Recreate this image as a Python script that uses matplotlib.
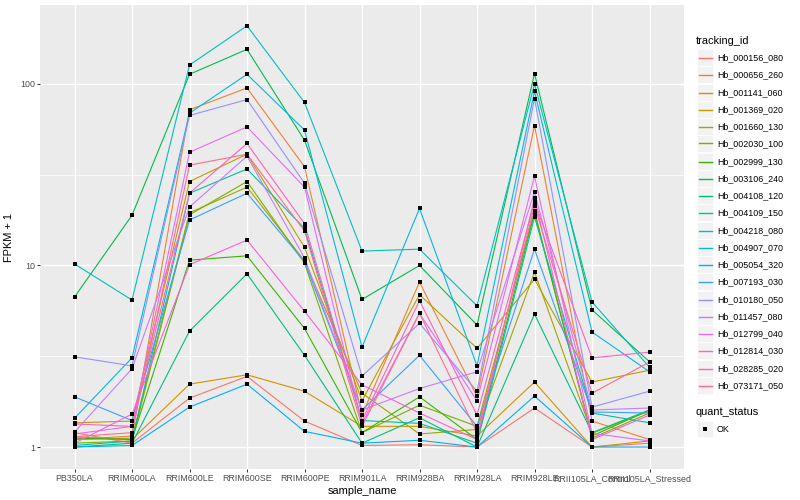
import matplotlib
matplotlib.use('Agg')
import matplotlib.pyplot as plt
from matplotlib.lines import Line2D
from matplotlib.patches import Rectangle
from matplotlib.ticker import FixedLocator, NullFormatter

plt.rcParams['font.family'] = ['Liberation Sans', 'DejaVu Sans']

# sample order on the x axis
samples = ['PB350LA', 'RRIM600LA', 'RRIM600LE', 'RRIM600SE', 'RRIM600PE',
           'RRIM901LA', 'RRIM928BA', 'RRIM928LA', 'RRIM928LE',
           'RRII105LA_Control', 'RRII105LA_Stressed']

# FPKM + 1 per gene
hb_000156_080 = [1.20, 1.05, 1.86, 2.45, 1.39, 1.02, 1.03, 1.00, 1.64, 1.00, 1.05]
hb_000656_260 = [1.10, 1.15, 72.0, 95.0, 35.0, 1.50, 8.10, 1.90, 59.0, 1.39, 1.10]
hb_001141_060 = [1.14, 1.10, 2.22, 2.50, 2.03, 1.30, 1.30, 1.15, 2.28, 1.00, 1.08]
hb_001369_020 = [1.36, 1.39, 29.0, 41.0, 12.6, 1.80, 6.90, 3.50, 8.40, 2.28, 2.65]
hb_001660_130 = [1.10, 1.12, 19.5, 27.0, 10.6, 1.98, 1.18, 1.25, 9.20, 1.19, 1.58]
hb_002030_100 = [1.05, 1.08, 19.0, 29.0, 10.3, 1.20, 1.70, 1.30, 20.0, 1.12, 1.54]
hb_002999_130 = [1.12, 1.10, 10.7, 11.3, 4.50, 1.20, 1.89, 1.10, 19.5, 1.15, 1.60]
hb_003106_240 = [6.70, 18.9, 113., 155., 49.0, 6.50, 10.0, 4.70, 114., 5.70, 2.95]
hb_004108_120 = [1.00, 1.05, 4.35, 9.00, 3.20, 1.05, 1.45, 1.00, 5.40, 1.20, 1.60]
hb_004109_150 = [1.02, 1.08, 25.0, 34.0, 16.0, 1.40, 1.35, 1.05, 18.5, 1.54, 1.36]
hb_004218_080 = [10.2, 6.45, 127., 209., 79.0, 12.0, 12.3, 6.00, 100., 6.30, 2.75]
hb_004907_070 = [1.44, 3.10, 69.0, 113., 55.7, 3.55, 20.6, 2.80, 91.0, 4.30, 2.60]
hb_005054_320 = [1.00, 1.02, 1.66, 2.22, 1.22, 1.05, 1.09, 1.00, 1.91, 1.00, 1.00]
hb_007193_030 = [1.89, 1.40, 17.8, 25.0, 10.5, 1.60, 3.20, 1.30, 12.3, 1.56, 1.54]
hb_010180_050 = [3.14, 2.80, 67.0, 82.0, 28.4, 2.46, 4.80, 2.03, 83.0, 1.66, 2.03]
hb_011457_080 = [1.21, 2.70, 21.0, 40.0, 11.0, 1.60, 2.10, 2.60, 25.4, 1.60, 1.64]
hb_012799_040 = [1.18, 1.30, 42.0, 58.0, 27.0, 1.35, 5.45, 1.80, 31.0, 1.19, 1.08]
hb_012814_030 = [1.05, 1.52, 10.1, 13.8, 5.60, 2.20, 1.54, 1.10, 23.5, 1.10, 1.50]
hb_028285_020 = [1.34, 1.30, 25.0, 47.0, 17.0, 1.40, 6.40, 1.50, 22.4, 3.10, 3.33]
hb_073171_050 = [1.14, 1.20, 35.7, 41.0, 15.5, 1.30, 5.45, 1.20, 21.2, 1.98, 2.94]

tracking_ids = ['Hb_000156_080', 'Hb_000656_260', 'Hb_001141_060', 'Hb_001369_020',
                'Hb_001660_130', 'Hb_002030_100', 'Hb_002999_130', 'Hb_003106_240',
                'Hb_004108_120', 'Hb_004109_150', 'Hb_004218_080', 'Hb_004907_070',
                'Hb_005054_320', 'Hb_007193_030', 'Hb_010180_050', 'Hb_011457_080',
                'Hb_012799_040', 'Hb_012814_030', 'Hb_028285_020', 'Hb_073171_050']
series = [hb_000156_080, hb_000656_260, hb_001141_060, hb_001369_020,
          hb_001660_130, hb_002030_100, hb_002999_130, hb_003106_240,
          hb_004108_120, hb_004109_150, hb_004218_080, hb_004907_070,
          hb_005054_320, hb_007193_030, hb_010180_050, hb_011457_080,
          hb_012799_040, hb_012814_030, hb_028285_020, hb_073171_050]

# ggplot hue palette, 20 levels
colors = ['#F8766D', '#EA8331', '#D89000', '#C09B00', '#A3A500', '#7CAE00',
          '#39B600', '#00BB4E', '#00BF7D', '#00C1A3', '#00BFC4', '#00BAE0',
          '#00B0F6', '#35A2FF', '#9590FF', '#C77CFF', '#E76BF3', '#FA62DB',
          '#FF62BC', '#FF6C91']

y_ticks = [1, 10, 100]
y_tick_labels = ['1', '10', '100']

fig = plt.figure(figsize=(8, 5), dpi=100)
ax = fig.add_axes([40 / 800, 1 - 469 / 500, 644 / 800, 464 / 500])
ax.set_facecolor('#EBEBEB')

x = list(range(len(samples)))
for vals, col in zip(series, colors):
    ax.plot(x, vals, color=col, lw=0.8, zorder=2)
for vals in series:
    ax.plot(x, vals, 's', color='black', ms=3.1, mew=0, zorder=3)

ax.set_yscale('log')
ax.set_ylim(0.757, 272)
ax.set_xlim(-0.6, len(samples) - 0.4)
ax.yaxis.set_major_locator(FixedLocator(y_ticks))
ax.set_yticklabels(y_tick_labels)
ax.yaxis.set_minor_locator(FixedLocator([10 ** 0.5, 10 ** 1.5]))
ax.yaxis.set_minor_formatter(NullFormatter())
ax.set_xticks(x)
ax.set_xticklabels(samples)

ax.grid(which='major', color='white', lw=1.0, zorder=0)
ax.grid(which='minor', axis='y', color='white', lw=0.5, zorder=0)
ax.set_axisbelow(True)
for sp in ax.spines.values():
    sp.set_visible(False)
ax.tick_params(which='major', length=2.2, width=0.7, color='#333333',
               labelsize=6.4, labelcolor='#4D4D4D', pad=1.5)
ax.tick_params(which='minor', length=0)

ax.set_xlabel('sample_name', fontsize=7.9, labelpad=2)
ax.set_ylabel('FPKM + 1', fontsize=7.9, labelpad=4)

# legend, drawn in pixel positions like ggplot's guide
def fx(px):
    return px / 800

def fy(py):
    return 1 - py / 500

fig.text(fx(696), fy(41), 'tracking_id', fontsize=7.9, va='center', ha='left')
for i, (tid, col) in enumerate(zip(tracking_ids, colors)):
    yc = round(57 + i * 17.26) + 0.5
    fig.patches.append(Rectangle((fx(697), fy(yc + 8.3)), 16 / 800, 16.6 / 500,
                                 transform=fig.transFigure, facecolor='#F2F2F2',
                                 edgecolor='white', lw=0.5, zorder=1))
    fig.lines.append(Line2D([fx(698.5), fx(711.5)], [fy(yc), fy(yc)],
                            transform=fig.transFigure, color=col, lw=1.0,
                            zorder=5))
    fig.text(fx(717), fy(yc), tid, fontsize=6.4, va='center', ha='left')

fig.text(fx(696), fy(412), 'quant_status', fontsize=7.9, va='center', ha='left')
fig.patches.append(Rectangle((fx(697), fy(429 + 8.3)), 16 / 800, 16.6 / 500,
                             transform=fig.transFigure, facecolor='#F2F2F2',
                             edgecolor='white', lw=0.5, zorder=1))
fig.lines.append(Line2D([fx(705)], [fy(429)], transform=fig.transFigure,
                        marker='s', color='black', ms=3.1, mew=0, ls='none',
                        zorder=5))
fig.text(fx(717), fy(429), 'OK', fontsize=6.4, va='center', ha='left')

fig.savefig('out.png', dpi=100)
